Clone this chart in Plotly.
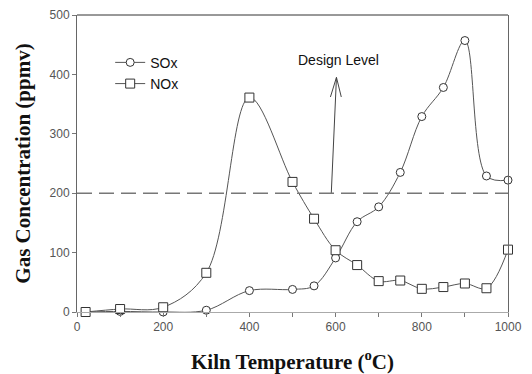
import plotly.graph_objects as go

# Data
temp = [20, 100, 200, 300, 400, 500, 550, 600, 650, 700, 750, 800, 850, 900, 950, 1000]
sox = [0, 1, 0, 3, 36, 38, 44, 91, 152, 177, 235, 329, 378, 457, 229, 222]
nox = [0, 5, 8, 66, 361, 219, 157, 104, 79, 52, 53, 39, 42, 48, 40, 105]
design_level = 200
arrow_start = [590, 200]
arrow_end = [602, 395]
head_dx = 14   # arrow head half-width (data units)
head_dy = 33   # arrow head length (data units)
label_pos = [607, 425]

x_ticks = [0, 200, 400, 600, 800, 1000]
y_ticks = [0, 100, 200, 300, 400, 500]

line_col = "#555555"

fig = go.Figure()
fig.add_trace(go.Scatter(
    x=temp, y=sox, name="SOx", mode="lines+markers",
    line=dict(color=line_col, width=1, shape="spline", smoothing=1.0),
    marker=dict(symbol="circle", size=8, color="white",
                line=dict(color="#333333", width=1)),
    cliponaxis=False,
))
fig.add_trace(go.Scatter(
    x=temp, y=nox, name="NOx", mode="lines+markers",
    line=dict(color=line_col, width=1, shape="spline", smoothing=1.0),
    marker=dict(symbol="square", size=9, color="white",
                line=dict(color="#333333", width=1)),
    cliponaxis=False,
))

# Arrow (shaft + open V head)
ax_x = [arrow_start[0], arrow_end[0], None,
        arrow_end[0] - head_dx, arrow_end[0], arrow_end[0] + head_dx * 0.8]
ax_y = [arrow_start[1], arrow_end[1], None,
        arrow_end[1] - head_dy, arrow_end[1], arrow_end[1] - head_dy]
fig.add_trace(go.Scatter(x=ax_x, y=ax_y, mode="lines", showlegend=False,
                         line=dict(color="#444444", width=1), hoverinfo="skip"))

# Design level dashed line
fig.add_shape(type="line", xref="x", yref="y", x0=0, x1=1000,
              y0=design_level, y1=design_level,
              line=dict(color="#777777", width=1.5, dash="15px,7px"))
# Top frame line
fig.add_shape(type="line", xref="paper", yref="paper", x0=0, x1=1, y0=1, y1=1,
              line=dict(color="#333333", width=1))

fig.add_annotation(x=label_pos[0], y=label_pos[1], xref="x", yref="y",
                   text="Design Level", showarrow=False,
                   font=dict(family="Arial, Liberation Sans", size=14, color="#111111"))

fig.update_layout(
    width=532, height=374,
    margin=dict(l=77, r=24, t=15, b=62),
    paper_bgcolor="white", plot_bgcolor="white",
    showlegend=True,
    legend=dict(x=0.077, y=0.893, xanchor="left", yanchor="top",
                bgcolor="rgba(0,0,0,0)",
                font=dict(family="Arial, Liberation Sans", size=14, color="#111111"),
                tracegroupgap=0),
    font=dict(family="Arial, Liberation Sans"),
)
fig.update_xaxes(
    range=[0, 1000], tickvals=x_ticks, automargin=False,
    showgrid=False, zeroline=False, showline=True, linecolor="#aaaaaa", linewidth=1,
    ticks="outside", ticklen=4, tickcolor="#777777",
    minor=dict(dtick=100, ticks="outside", ticklen=4, tickcolor="#777777", showgrid=False),
    tickfont=dict(family="Arial, Liberation Sans", size=12, color="#555555"),
    title=dict(text="Kiln Temperature (<sup>o</sup>C)",
               font=dict(family="Liberation Serif, Times New Roman", size=21,
                         color="#111111", weight="bold"),
               standoff=22),
)
fig.update_yaxes(
    range=[0, 500], tickvals=y_ticks, automargin=False,
    showgrid=False, zeroline=False, showline=True, linecolor="#666666", linewidth=1,
    mirror=True,
    ticks="outside", ticklen=4, tickcolor="#777777",
    tickfont=dict(family="Arial, Liberation Sans", size=12, color="#555555"),
    title=dict(text="Gas Concentration (ppmv)",
               font=dict(family="Liberation Serif, Times New Roman", size=21,
                         color="#111111", weight="bold"),
               standoff=13),
)

fig.write_html("out.html")
